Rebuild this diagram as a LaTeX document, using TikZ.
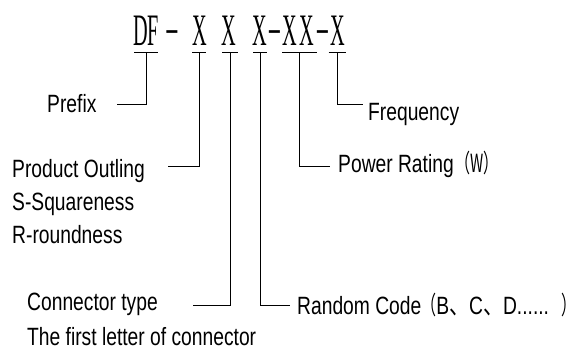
\documentclass[tikz,border=0pt]{standalone}
\usepackage{fontspec}
\newfontfamily\labfont[FakeStretch=0.77]{Liberation Sans}
\newfontfamily\titlefont[FakeStretch=0.45]{Liberation Serif}
\newfontfamily\cjkfont[FakeStretch=0.6]{Noto Sans CJK SC}
\newfontfamily\cjkwide[FakeStretch=0.8]{Noto Sans CJK SC}
\newcommand\tdash{\raisebox{5pt}{\scalebox{2.1}[0.8]{-}}}
\begin{document}
\begin{tikzpicture}[x=1pt,y=-1pt,
  titlech/.style={font=\titlefont\fontsize{45}{45}\selectfont, inner sep=0pt, anchor=base},
  lab/.style={font=\labfont\fontsize{25}{30}\selectfont, inner sep=0pt, anchor=base west},
  conn/.style={line width=1pt, black},
]
\useasboundingbox (0,0) rectangle (577,349);
\fill[white] (0,0) rectangle (577,349);
% title characters
\node[titlech] (cD) at (140.5,45) {D};
\node[titlech] (cF) at (153,45) {F};
\node[titlech] (h1) at (172,45) {\tdash};
\node[titlech] (x1) at (200,45) {X};
\node[titlech] (x2) at (229,45) {X};
\node[titlech] (x3) at (260,45) {X};
\node[titlech] (h2) at (274.5,45) {\tdash};
\node[titlech] (x4) at (290,45) {X};
\node[titlech] (x5) at (306.5,45) {X};
\node[titlech] (h3) at (322.5,45) {\tdash};
\node[titlech] (x6) at (337.5,45) {X};
% T-bar centres
\coordinate (tD) at (146,52);
\coordinate (t1) at (199,52);
\coordinate (t2) at (230,52);
\coordinate (t3) at (260,52);
\coordinate (tX) at (299.5,52);
\coordinate (t6) at (337,52);
\draw[conn] ([xshift=-12pt]tD) -- ([xshift=12pt]tD);
\draw[conn] ([xshift=-7pt]t1) -- ([xshift=7pt]t1);
\draw[conn] ([xshift=-8pt]t2) -- ([xshift=8pt]t2);
\draw[conn] ([xshift=-7pt]t3) -- ([xshift=7pt]t3);
\draw[conn] ([xshift=-17.5pt]tX) -- ([xshift=17.5pt]tX);
\draw[conn] ([xshift=-8.5pt]t6) -- ([xshift=8.5pt]t6);
% labels
\node[lab] (prefix) at (47,112) {Prefix};
\node[lab] (outl) at (12,177) {Product Outling};
\node[lab] (sq) at (12,210) {S-Squareness};
\node[lab] (rd) at (12,243) {R-roundness};
\node[lab] (ctype) at (27,310) {Connector type};
\node[lab] (cfirst) at (27,345) {The first letter of connector};
\node[lab] (rand) at (297,314) {Random Code{\cjkfont（}B{\cjkwide、}C{\cjkwide、}D......{\cjkfont\hspace{12pt}）}};
\node[lab] (power) at (338,172) {Power Rating\hspace{2pt}{\cjkfont（W）}};
\node[lab] (freq) at (368,120) {Frequency};
% connector ends
\coordinate (ePrefix) at (117,104);
\coordinate (eOutl) at (168,166);
\coordinate (eCtype) at (193,305);
\coordinate (eRand) at (290,305);
\coordinate (ePower) at (330,166);
\coordinate (eFreq) at (363,104);
\draw[conn] (tD) |- (ePrefix);
\draw[conn] (t1) |- (eOutl);
\draw[conn] (t2) |- (eCtype);
\draw[conn] (t3) |- (eRand);
\draw[conn] (tX) |- (ePower);
\draw[conn] (t6) |- (eFreq);
\end{tikzpicture}
\end{document}
